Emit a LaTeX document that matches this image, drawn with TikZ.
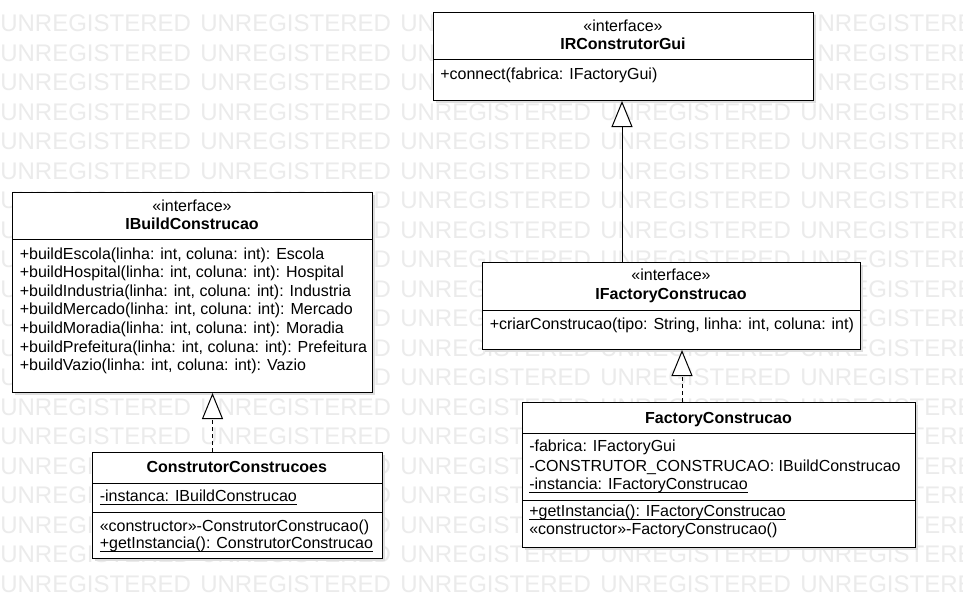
\documentclass[tikz,border=0pt]{standalone}
\usepackage{fontspec}
\setmainfont{Liberation Sans}
\usetikzlibrary{arrows.meta}
\newcommand\myul[1]{\setbox0\hbox{#1}\rlap{\rule[-2.5pt]{\wd0}{0.6pt}}\box0}
\definecolor{wmgray}{gray}{0.92}
\definecolor{shadowgray}{gray}{0.87}
\newcommand\drawumlbox[5]{%
  \fill[shadowgray] ({#2+3},{#3+3}) rectangle ({#4+3},{#5+3});
  \node[umlbox, minimum width={(#4-#2)*0.75pt}, minimum height={(#5-#3)*0.75pt}] (#1) at (#2,#3) {};}
\tikzset{
  txt/.style={anchor=base west, inner sep=0pt, font=\fontsize{12pt}{14pt}\selectfont},
  ctxt/.style={anchor=base, inner sep=0pt, font=\fontsize{12pt}{14pt}\selectfont},
  btxt/.style={anchor=base, inner sep=0pt, font=\fontsize{12pt}{14pt}\selectfont\bfseries},
  wm/.style={anchor=base west, inner sep=0pt, text=wmgray, font=\fontsize{18pt}{18pt}\selectfont},
  umlbox/.style={draw=black, fill=white, line width=0.75pt, inner sep=0pt, anchor=north west},
  divline/.style={line width=0.75pt},
  realize/.style={line width=0.75pt, -{Triangle[length=19.5pt,width=15.75pt,fill=white]}},
  implem/.style={realize, dash pattern=on 3pt off 2.25pt},
}
\begin{document}
\begin{tikzpicture}[x=0.75pt,y=-0.75pt]
\useasboundingbox (0,0) rectangle (963,608);
\clip (0,0) rectangle (963,608);
\fill[white] (0,0) rectangle (963,608);
% watermark
\foreach \r in {0,...,19}{\foreach \c in {0,...,4}{
  \node[wm] (wm\r-\c) at ({\c*200},{31.7+\r*29.5}) {UNREGISTERED};}}
% boxes
\drawumlbox{b1}{433}{12}{813}{100}
\drawumlbox{b2}{12}{192}{372}{392}
\drawumlbox{b3}{92}{452}{381.5}{558}
\drawumlbox{b4}{482}{262}{860}{349}
\drawumlbox{b5}{522}{402}{915}{547}
% dividers
\draw[divline] (433,59) -- (813,59);
\draw[divline] (12,239) -- (372,239);
\draw[divline] (92,483.5) -- (381.5,483.5);
\draw[divline] (92,512.5) -- (381.5,512.5);
\draw[divline] (482,310) -- (860,310);
\draw[divline] (522,433) -- (915,433);
\draw[divline] (522,500) -- (915,500);
% IRConstrutorGui
\node[ctxt] (b1s) at (623,31) {«interface»};
\node[btxt] (b1t) at (623,49.5) {IRConstrutorGui};
\node[txt] (b1m1) at (440,79) {+connect(fabrica: IFactoryGui)};
% IBuildConstrucao
\node[ctxt] (b2s) at (192,211) {«interface»};
\node[btxt] (b2t) at (192,229.5) {IBuildConstrucao};
\node[txt] (b2m1) at (19.5,259) {+buildEscola(linha: int, coluna: int): Escola};
\node[txt] (b2m2) at (19.5,277.6) {+buildHospital(linha: int, coluna: int): Hospital};
\node[txt] (b2m3) at (19.5,296.2) {+buildIndustria(linha: int, coluna: int): Industria};
\node[txt] (b2m4) at (19.5,314.8) {+buildMercado(linha: int, coluna: int): Mercado};
\node[txt] (b2m5) at (19.5,333.4) {+buildMoradia(linha: int, coluna: int): Moradia};
\node[txt] (b2m6) at (19.5,352) {+buildPrefeitura(linha: int, coluna: int): Prefeitura};
\node[txt] (b2m7) at (19.5,370.6) {+buildVazio(linha: int, coluna: int): Vazio};
% ConstrutorConstrucoes
\node[btxt] (b3t) at (236.75,472.7) {ConstrutorConstrucoes};
\node[txt] (b3a1) at (99.5,501.7) {\myul{-instanca: IBuildConstrucao}};
\node[txt] (b3m1) at (99.5,531.5) {«constructor»-ConstrutorConstrucao()};
\node[txt] (b3m2) at (99.5,548.5) {\myul{+getInstancia(): ConstrutorConstrucao}};
% IFactoryConstrucao
\node[ctxt] (b4s) at (671,280) {«interface»};
\node[btxt] (b4t) at (671,299.5) {IFactoryConstrucao};
\node[txt] (b4m1) at (489.5,329) {+criarConstrucao(tipo: String, linha: int, coluna: int)};
% FactoryConstrucao
\node[btxt] (b5t) at (718.5,423.3) {FactoryConstrucao};
\node[txt] (b5a1) at (529,451.7) {-fabrica: IFactoryGui};
\node[txt] (b5a2) at (529,471) {-CONSTRUTOR\_CONSTRUCAO: IBuildConstrucao};
\node[txt] (b5a3) at (529,489.3) {\myul{-instancia: IFactoryConstrucao}};
\node[txt] (b5m1) at (529,516.7) {\myul{+getInstancia(): IFactoryConstrucao}};
\node[txt] (b5m2) at (529,534.3) {«constructor»-FactoryConstrucao()};
% connectors
\coordinate (cx1) at (622,0);
\coordinate (cx2) at (682,0);
\coordinate (cx3) at (212.5,0);
\draw[realize] (b4.north -| cx1) -- (b1.south -| cx1);
\draw[implem] (b5.north -| cx2) -- (b4.south -| cx2);
\draw[implem] (b3.north -| cx3) -- (b2.south -| cx3);
\end{tikzpicture}
\end{document}
